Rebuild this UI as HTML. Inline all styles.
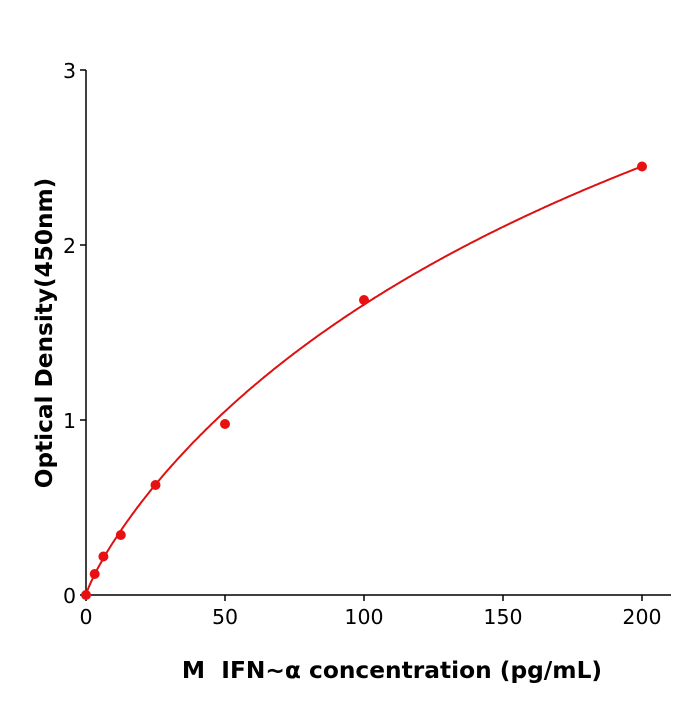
<!DOCTYPE html>
<html><head><meta charset="utf-8"><style>body{margin:0;background:#fff}</style></head>
<body>
<svg id="s" width="700" height="700" xmlns="http://www.w3.org/2000/svg" font-family="DejaVu Sans, Liberation Sans, sans-serif">
<rect width="700" height="700" fill="#fff"/>
<g stroke="#000" stroke-width="1.5" fill="none">
<line x1="86" y1="70" x2="86" y2="596"/>
<line x1="85" y1="595" x2="671" y2="595"/>
<line x1="80" y1="70" x2="86" y2="70"/>
<line x1="80" y1="245" x2="86" y2="245"/>
<line x1="80" y1="420" x2="86" y2="420"/>
<line x1="80" y1="595" x2="86" y2="595"/>
<line x1="86" y1="595" x2="86" y2="601"/>
<line x1="225" y1="595" x2="225" y2="601"/>
<line x1="364" y1="595" x2="364" y2="601"/>
<line x1="503" y1="595" x2="503" y2="601"/>
<line x1="642" y1="595" x2="642" y2="601"/>
</g>
<g font-size="20.5" fill="#000" text-anchor="end">
<text x="76" y="78">3</text><text x="76" y="253">2</text><text x="76" y="428">1</text><text x="76" y="603">0</text>
</g>
<g font-size="20.5" fill="#000" text-anchor="middle">
<text x="86" y="624">0</text><text x="225" y="624">50</text><text x="364" y="624">100</text><text x="503" y="624">150</text><text x="642" y="624">200</text>
</g>
<text x="392" y="678" font-size="23.3" font-weight="bold" text-anchor="middle">M&#160; IFN~α concentration (pg/mL)</text>
<text transform="translate(52,333) rotate(-90)" font-size="23.2" font-weight="bold" text-anchor="middle">Optical Density(450nm)</text>
<path id="c" fill="none" stroke="#dd1111" stroke-width="2"/>
<g fill="#e81010">
<circle cx="86" cy="595" r="5"/><circle cx="94.7" cy="574" r="5"/><circle cx="103.4" cy="556.5" r="5"/>
<circle cx="120.8" cy="535" r="5"/><circle cx="155.5" cy="485" r="5"/><circle cx="225" cy="424" r="5"/>
<circle cx="364" cy="300" r="5"/><circle cx="642" cy="166.5" r="5"/>
</g>
</svg>
<script>
var d="";for(var x=0;x<=200;x+=0.5){var p=Math.pow(x,0.85);var y=6.02*p/(131.7+p);d+=(x?"L":"M")+(86+2.78*x).toFixed(1)+","+(595-175*y).toFixed(1);}
document.getElementById("c").setAttribute("d",d);
</script>
</body></html>
